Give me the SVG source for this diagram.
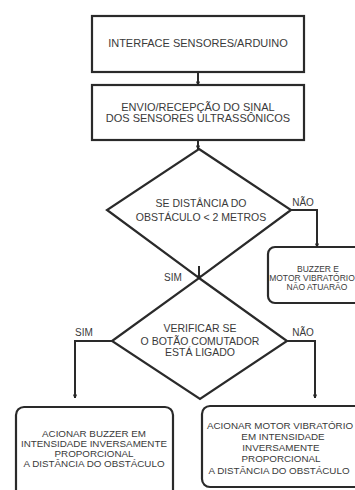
<svg xmlns="http://www.w3.org/2000/svg" width="355" height="490" viewBox="0 0 355 490">
  <defs>
    <marker id="arrow" viewBox="0 0 10 10" refX="9" refY="5" markerWidth="4.5" markerHeight="4.5" orient="auto" markerUnits="userSpaceOnUse">
      <path d="M1,1 L9,5 L1,9" fill="none" stroke="#222" stroke-width="2"/>
    </marker>
    <style>
      .shape { fill: #fff; stroke: #2a2a2a; stroke-width: 2.2; }
      .conn { fill: none; stroke: #2a2a2a; stroke-width: 2; marker-end: url(#arrow); }
      text { font-family: "Liberation Sans", Arial, sans-serif; fill: #3a3a3a; text-anchor: middle; }
      .t11 { font-size: 11px; }
      .t10 { font-size: 10.5px; }
      .lbl { font-size: 10px; }
      .t9 { font-size: 9.8px; }
      .t8 { font-size: 8.5px; }
    </style>
  </defs>
  <rect width="355" height="490" fill="#fff"/>

  <g id="interface">
    <rect class="shape" x="92" y="16" width="212" height="56"/>
    <text class="t11" x="198" y="47">INTERFACE SENSORES/ARDUINO</text>
  </g>

  <g id="envio">
    <rect class="shape" x="92" y="85" width="212" height="55"/>
    <text class="t11" x="198" y="110.5">ENVIO/RECEPÇÃO DO SINAL</text>
    <text class="t11" x="198" y="122">DOS SENSORES ULTRASSÔNICOS</text>
  </g>

  <g id="distancia">
    <polygon class="shape" points="199,149 291,210 199,278 107,210"/>
    <text class="t10" x="201" y="207">SE DISTÂNCIA DO</text>
    <text class="t10" x="201" y="221">OBSTÁCULO &lt; 2 METROS</text>
  </g>

  <g id="nao-atuar">
    <rect class="shape" x="268" y="247" width="110" height="56" rx="7"/>
    <text class="t8" x="318" y="272">BUZZER E</text>
    <text class="t8" x="312" y="281">MOTOR VIBRATÓRIO</text>
    <text class="t8" x="317" y="290">NÃO ATUARÃO</text>
  </g>

  <g id="botao">
    <polygon class="shape" points="199,278 287,341 200,399 112,341"/>
    <text class="t10" x="200" y="332">VERIFICAR SE</text>
    <text class="t10" x="200" y="345">O BOTÃO COMUTADOR</text>
    <text class="t10" x="200" y="356">ESTÁ LIGADO</text>
  </g>

  <g id="buzzer">
    <rect class="shape" x="16" y="407" width="157" height="95" rx="8"/>
    <text class="t9" x="94" y="437">ACIONAR BUZZER EM</text>
    <text class="t9" x="94" y="447">INTENSIDADE INVERSAMENTE</text>
    <text class="t9" x="94" y="456.5">PROPORCIONAL</text>
    <text class="t9" x="94" y="467">A DISTÂNCIA DO OBSTÁCULO</text>
  </g>

  <g id="motor">
    <rect class="shape" x="202" y="406" width="170" height="81" rx="8"/>
    <text class="t9" x="280" y="428.5">ACIONAR MOTOR VIBRATÓRIO</text>
    <text class="t9" x="283" y="440">EM INTENSIDADE</text>
    <text class="t9" x="281" y="451">INVERSAMENTE</text>
    <text class="t9" x="281" y="462">PROPORCIONAL</text>
    <text class="t9" x="279" y="474">A DISTÂNCIA DO OBSTÁCULO</text>
  </g>

  <!-- connectors drawn over the shapes so the arrowheads stay visible -->
  <g id="connectors">
    <path class="conn" d="M198,72 V85"/>
    <path class="conn" d="M198,140 V149"/>
    <path class="conn" d="M291,210 H317 V247"/>
    <path class="conn" d="M199,266 V279"/>
    <path class="conn" d="M112,341 H75 V398"/>
    <path class="conn" d="M287,341 H315 V398"/>
  </g>

  <!-- branch labels -->
  <g id="labels">
    <text class="lbl" x="303" y="206">NÃO</text>
    <text class="lbl" x="173" y="281">SIM</text>
    <text class="lbl" x="84" y="336">SIM</text>
    <text class="lbl" x="303" y="336">NÃO</text>
  </g>
</svg>
